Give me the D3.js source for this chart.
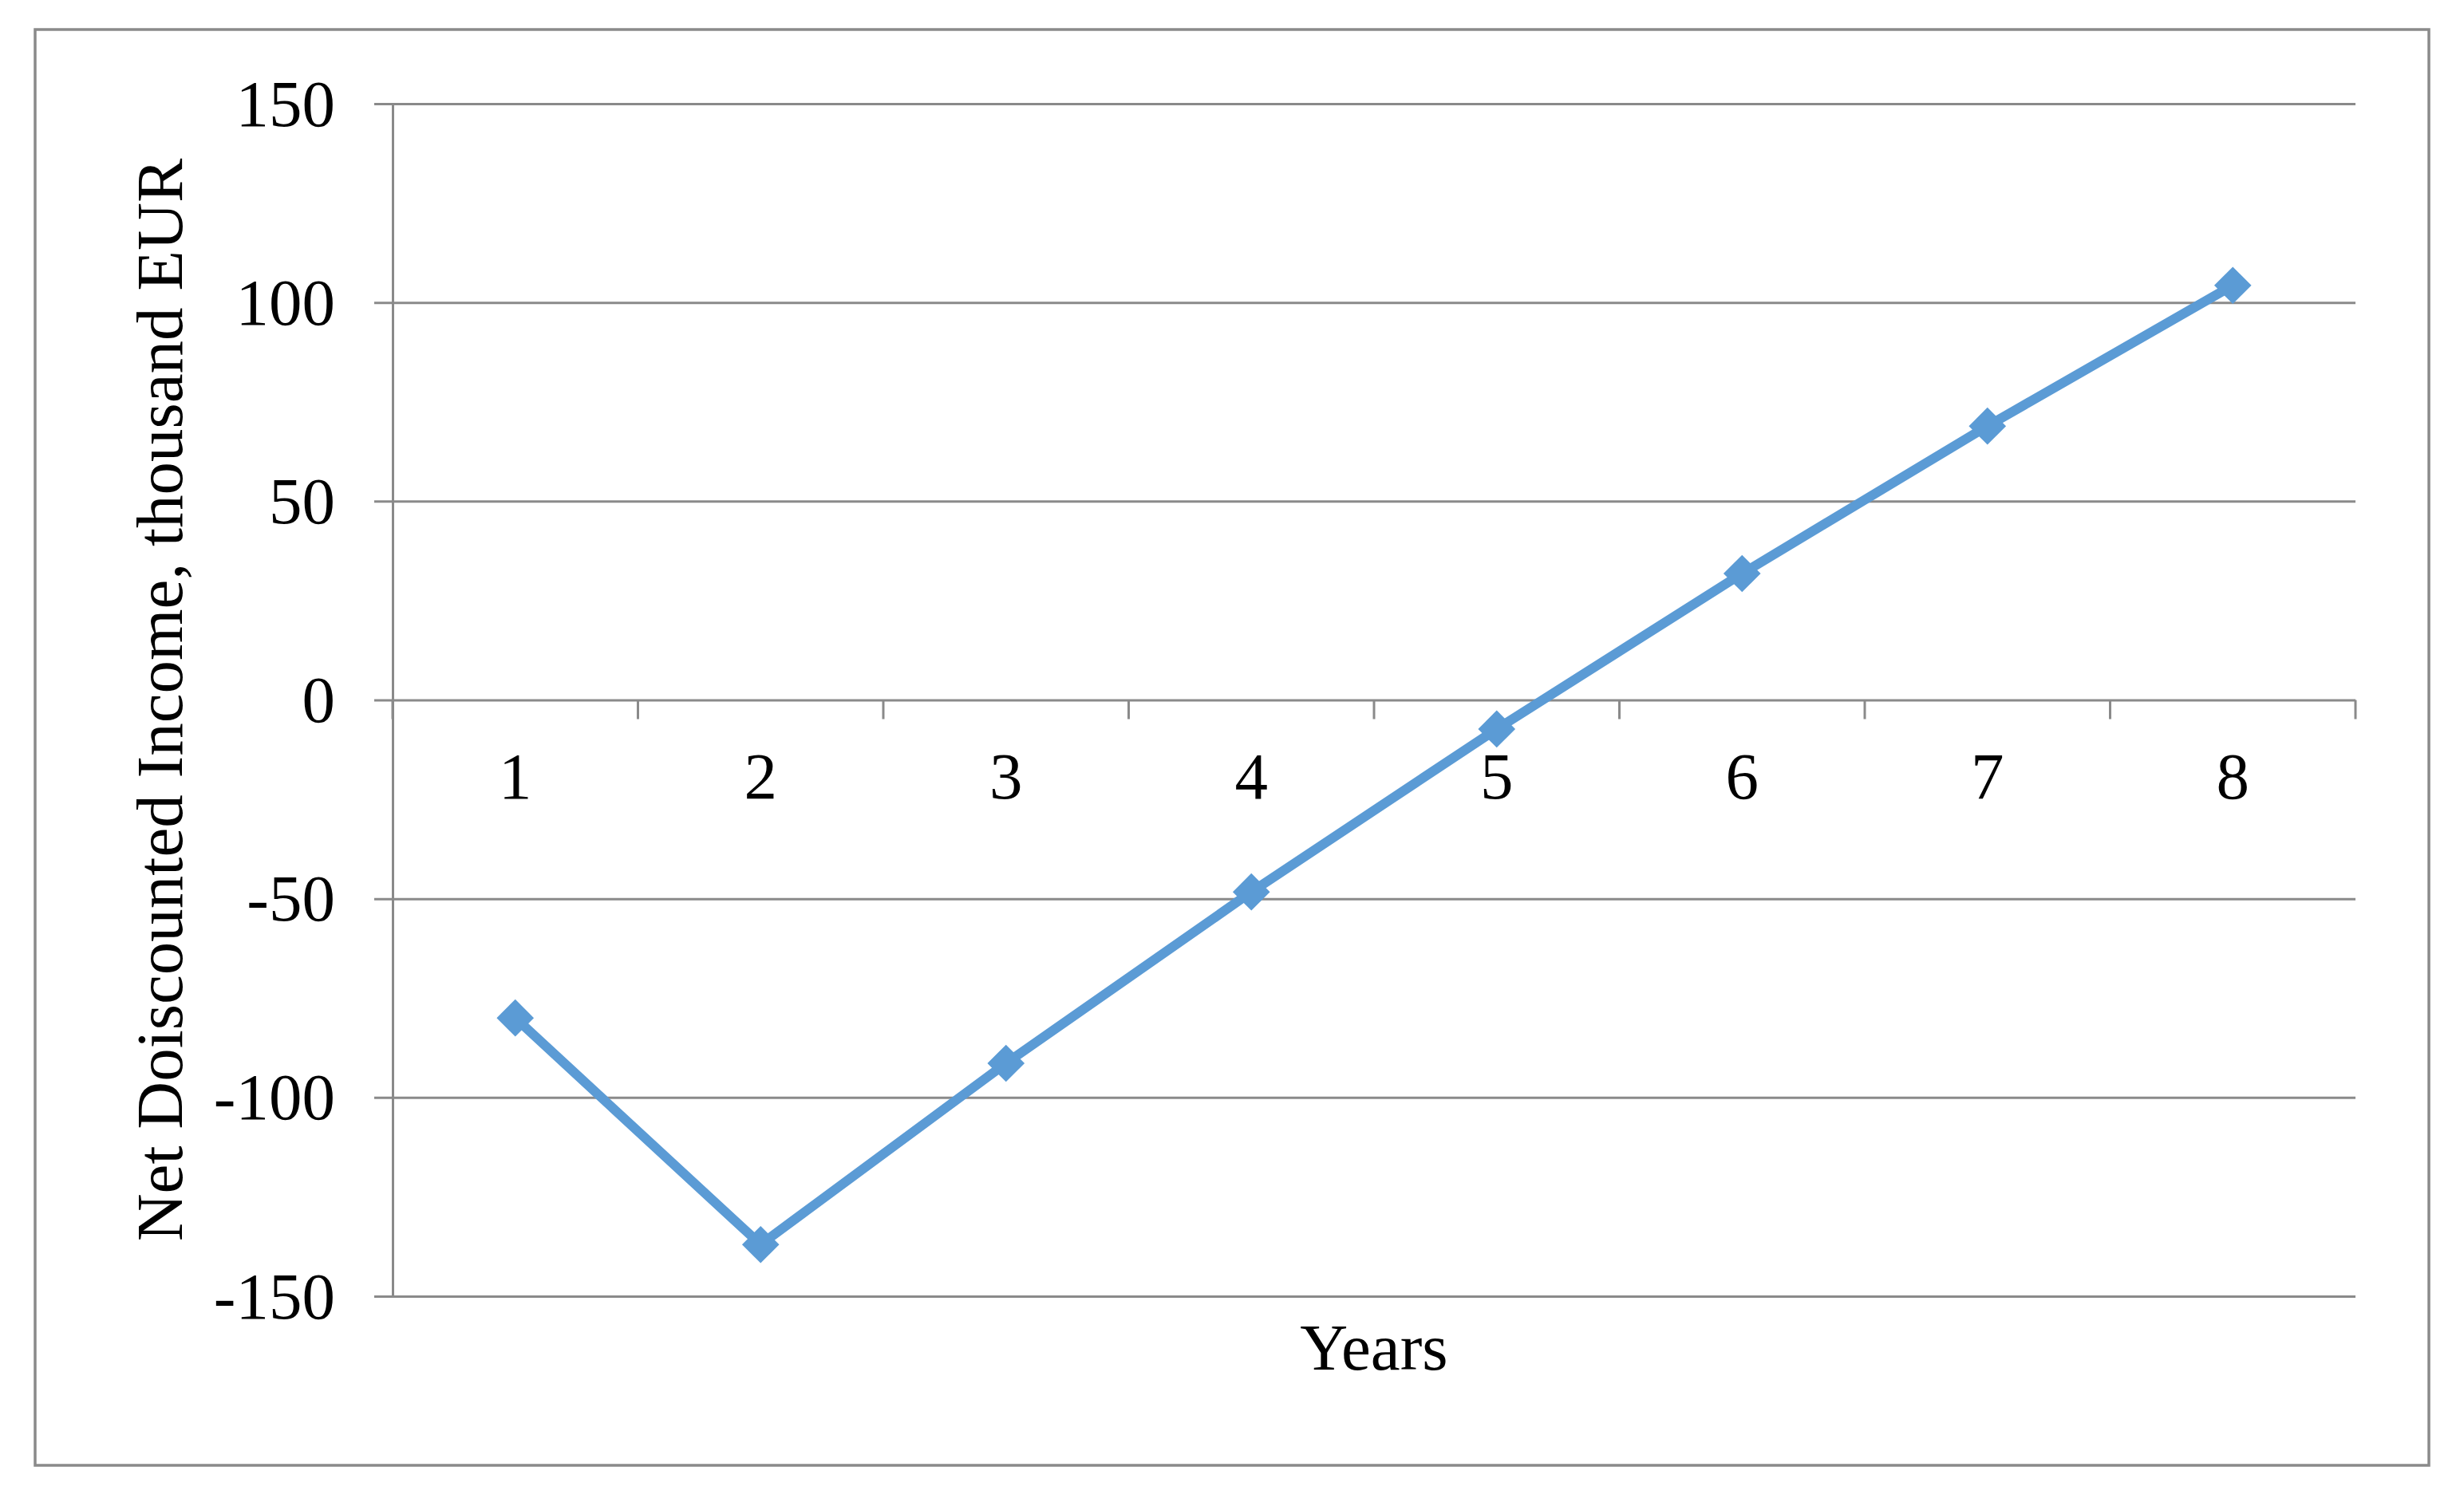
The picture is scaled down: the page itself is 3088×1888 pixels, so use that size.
<!DOCTYPE html>
<html>
<head>
<meta charset="utf-8">
<script src="https://cdn.jsdelivr.net/npm/d3@7"></script>
<style>
  html, body { margin: 0; padding: 0; background: #fff; }
  svg { display: block; }
  text { font-family: "Liberation Serif", "Times New Roman", serif; fill: #000; }
</style>
</head>
<body>
<script>
const years = ["1", "2", "3", "4", "5", "6", "7", "8"];
const netIncome = [-80, -137, -91.4, -48.3, -7.3, 31.8, 68.9, 104.3];
const yTicks = [-150, -100, -50, 0, 50, 100, 150];
const xTitle = "Years";
const yTitle = "Net Doiscounted Income, thousand EUR";

(function () {
const W = 3088, H = 1888;
const pLeft = 492, pRight = 2952, pTop = 130, pBottom = 1625;
const gridColor = "#8a8a8a";
const lineColor = "#5B9BD5";
const fontSize = 83;

const svg = d3.select("body").append("svg").attr("width", W).attr("height", H);

svg.append("rect")
  .attr("x", 44).attr("y", 37).attr("width", 3000).attr("height", 1800)
  .attr("fill", "#fff").attr("stroke", gridColor).attr("stroke-width", 3.5);

const x = d3.scaleBand().domain(years).range([pLeft, pRight]).padding(0);
const y = d3.scaleLinear().domain([-150, 150]).range([pBottom, pTop]);

// Y axis with gridlines
const yAxis = svg.append("g").attr("transform", `translate(${pLeft},0)`)
  .call(d3.axisLeft(y).tickValues(yTicks).tickSizeOuter(0).tickFormat(d => String(d)));
yAxis.select(".domain").attr("stroke", gridColor).attr("stroke-width", 3);
yAxis.selectAll(".tick line")
  .attr("x1", -23).attr("x2", pRight - pLeft)
  .attr("stroke", gridColor).attr("stroke-width", 3);
yAxis.selectAll(".tick text")
  .attr("x", -72).attr("dy", null).attr("y", 27)
  .style("font-size", fontSize + "px")
  .attr("font-family", null).attr("fill", "#000");

// X axis at zero with boundary tick marks
const y0 = y(0);
const bounds = years.map(d => x(d)).concat([x.range()[1]]);
svg.append("g").selectAll("line").data(bounds).join("line")
  .attr("x1", d => d).attr("x2", d => d)
  .attr("y1", y0).attr("y2", y0 + 24)
  .attr("stroke", gridColor).attr("stroke-width", 3);

const xAxis = svg.append("g").attr("transform", `translate(0,${y0})`)
  .call(d3.axisBottom(x).tickSize(0));
xAxis.select(".domain").remove();
xAxis.selectAll(".tick text")
  .attr("y", 1001 - y0).attr("dy", null)
  .style("font-size", fontSize + "px")
  .attr("font-family", null).attr("fill", "#000");

// Line
const pts = years.map((d, i) => [x(d) + x.bandwidth() / 2, y(netIncome[i])]);
svg.append("path")
  .attr("d", d3.line()(pts))
  .attr("fill", "none").attr("stroke", lineColor)
  .attr("stroke-width", 12).attr("stroke-linejoin", "round");

const s = 33;
svg.append("g").selectAll("rect").data(pts).join("rect")
  .attr("x", -s / 2).attr("y", -s / 2).attr("width", s).attr("height", s)
  .attr("transform", d => `translate(${d[0]},${d[1]}) rotate(45)`)
  .attr("fill", lineColor);

// Titles
svg.append("text")
  .attr("x", (pLeft + pRight) / 2).attr("y", 1717)
  .attr("text-anchor", "middle")
  .style("font-size", fontSize + "px")
  .text(xTitle);

svg.append("text")
  .attr("transform", `translate(228,${(pTop + pBottom) / 2}) rotate(-90)`)
  .attr("text-anchor", "middle")
  .style("font-size", fontSize + "px")
  .text(yTitle);
})();
</script>
</body>
</html>
